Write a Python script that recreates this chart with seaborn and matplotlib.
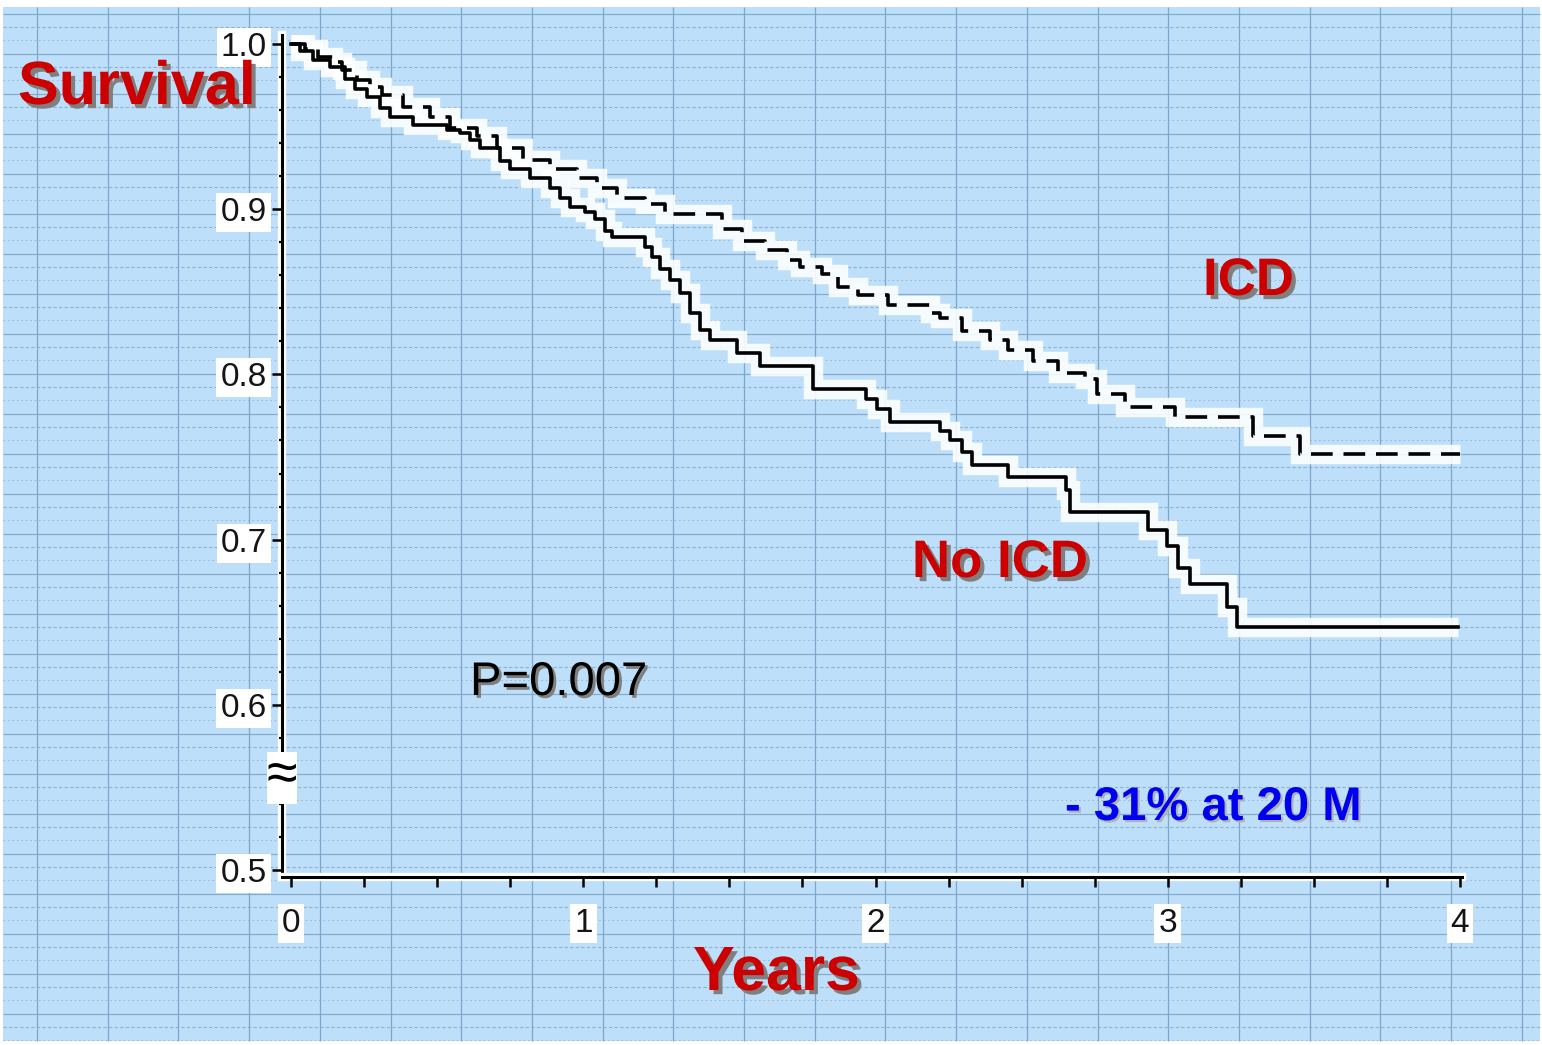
import numpy as np
import pandas as pd
import matplotlib
matplotlib.use("Agg")
import matplotlib.pyplot as plt
import matplotlib.patheffects as pe
from matplotlib.patches import Rectangle
from matplotlib.ticker import MultipleLocator, FixedLocator
import seaborn as sns

# Kaplan-Meier survival estimates (years of follow-up, survival after each step)
years_no_icd = [0.0, 0.031, 0.075, 0.133, 0.185, 0.219, 0.260, 0.305, 0.339, 0.417,
                0.534, 0.578, 0.612, 0.647, 0.715, 0.749, 0.818, 0.886, 0.920, 0.955,
                1.006, 1.040, 1.074, 1.098, 1.211, 1.235, 1.263, 1.297, 1.331, 1.365,
                1.399, 1.434, 1.526, 1.605, 1.786, 1.967, 2.005, 2.050, 2.221, 2.255,
                2.296, 2.330, 2.453, 2.652, 2.666, 2.932, 2.997, 3.035, 3.076, 3.203,
                3.237, 3.993]
surv_no_icd = [1.000, 0.996, 0.990, 0.986, 0.979, 0.973, 0.968, 0.961, 0.956, 0.951,
               0.948, 0.946, 0.942, 0.937, 0.929, 0.924, 0.919, 0.913, 0.907, 0.901,
               0.898, 0.894, 0.887, 0.883, 0.877, 0.871, 0.864, 0.857, 0.849, 0.837,
               0.827, 0.821, 0.813, 0.805, 0.791, 0.785, 0.779, 0.771, 0.766, 0.760,
               0.753, 0.745, 0.738, 0.730, 0.717, 0.706, 0.696, 0.683, 0.673, 0.659,
               0.647, 0.647]

years_icd = [0.0, 0.048, 0.092, 0.144, 0.175, 0.226, 0.270, 0.311, 0.383, 0.476,
             0.544, 0.636, 0.705, 0.794, 0.886, 0.979, 1.047, 1.115, 1.211, 1.280,
             1.475, 1.543, 1.622, 1.697, 1.742, 1.817, 1.872, 1.940, 2.043, 2.186,
             2.221, 2.296, 2.392, 2.453, 2.539, 2.624, 2.717, 2.758, 2.854, 3.025,
             3.292, 3.453, 4.000]
surv_icd = [1.000, 0.997, 0.992, 0.989, 0.984, 0.978, 0.974, 0.969, 0.962, 0.956,
            0.949, 0.944, 0.937, 0.930, 0.924, 0.919, 0.913, 0.907, 0.903, 0.897,
            0.888, 0.881, 0.875, 0.869, 0.865, 0.861, 0.853, 0.848, 0.842, 0.837,
            0.834, 0.826, 0.821, 0.815, 0.808, 0.801, 0.797, 0.788, 0.780, 0.774,
            0.763, 0.752, 0.752]

group_names = ["ICD", "No ICD"]
x_tick_labels = ["0", "1", "2", "3", "4"]
y_tick_labels = ["0.5", "0.6", "0.7", "0.8", "0.9", "1.0"]
y_ticks = [0.5, 0.6, 0.7, 0.8, 0.9, 1.0]

df = pd.concat([
    pd.DataFrame({"years": years_icd, "survival": surv_icd, "group": group_names[0]}),
    pd.DataFrame({"years": years_no_icd, "survival": surv_no_icd, "group": group_names[1]}),
], ignore_index=True)

plt.rcParams["font.family"] = ["Liberation Sans", "DejaVu Sans"]

W, H = 1542, 1045
fig = plt.figure(figsize=(W / 100, H / 100), dpi=100)

# ---- ruled light-blue backdrop (pixel coordinates) ----
bg = fig.add_axes([0, 0, 1, 1], zorder=0)
bg.set_xlim(0, W)
bg.set_ylim(H, 0)
bg.axis("off")
bg.add_patch(Rectangle((3, 7), W - 5, 1034, facecolor="#BEDFF9", edgecolor="none"))
for y0 in np.arange(14, 1041, 40):
    bg.hlines(y0, 3, W - 2, color="#86ABCC", lw=0.9)
    if y0 + 13 < 1041:
        bg.hlines(y0 + 13, 3, W - 2, color="#8DB1D1", lw=0.8, linestyles=(0, (3, 2)))
    if y0 + 26 < 1041:
        bg.hlines(y0 + 26, 3, W - 2, color="#9BBBD8", lw=0.8, linestyles=(0, (1.5, 2.5)))
for x0 in np.arange(37, W - 2, 70.7):
    bg.vlines(x0, 7, 1041, color="#7DA6CB", lw=0.9)

# ---- survival axes ----
ax = fig.add_axes([282 / W, 1 - 877 / H, (1462 - 282) / W, (877 - 35) / H], zorder=2)
ax.patch.set_alpha(0)

# white halo under both curves
sns.lineplot(data=df, x="years", y="survival", hue="group",
             palette={g: "white" for g in group_names},
             drawstyle="steps-post", estimator=None, legend=False,
             lw=14, alpha=0.88, solid_capstyle="butt", solid_joinstyle="miter",
             ax=ax, zorder=2)
# the curves themselves
sns.lineplot(data=df, x="years", y="survival", hue="group", style="group",
             palette={g: "black" for g in group_names},
             dashes={"ICD": (6, 3), "No ICD": ""},
             drawstyle="steps-post", estimator=None, legend=False,
             lw=2.6, ax=ax, zorder=3)

ax.set_xlim(-0.031, 4.007)
ax.set_ylim(0.4958, 1.0054)
ax.set_xlabel("")
ax.set_ylabel("")

for side in ("top", "right"):
    ax.spines[side].set_visible(False)
for side in ("left", "bottom"):
    ax.spines[side].set_color("black")
    ax.spines[side].set_linewidth(2.2)
    ax.spines[side].set_zorder(1)
    ax.spines[side].set_path_effects([pe.Stroke(linewidth=6, foreground="white"), pe.Normal()])

ax.xaxis.set_major_locator(FixedLocator(range(5)))
ax.xaxis.set_minor_locator(MultipleLocator(0.25))
ax.set_xticklabels(x_tick_labels)
ax.yaxis.set_major_locator(FixedLocator(y_ticks))
ax.yaxis.set_minor_locator(MultipleLocator(0.02))
ax.set_yticklabels(y_tick_labels)

ax.tick_params(axis="x", which="both", direction="out", length=7, width=1.8,
               color="black", labelsize=24, labelcolor="#151515", pad=15)
ax.tick_params(axis="y", which="major", direction="out", length=7, width=1.8,
               color="black", labelsize=24, labelcolor="#151515", pad=4)
ax.tick_params(axis="y", which="minor", direction="out", length=2.5, width=1.6,
               color="black")
for lbl in ax.get_xticklabels() + ax.get_yticklabels():
    lbl.set_bbox(dict(boxstyle="square,pad=0.12", facecolor="white", edgecolor="none"))

# axis break mark on the survival axis
ax.text(-0.031, 0.556, "≈", fontsize=40, ha="center", va="center",
        color="black", zorder=5,
        bbox=dict(boxstyle="square,pad=0.0", facecolor="white", edgecolor="none"))


def place(px, py, s, **kw):
    fig.text(px / W, 1 - py / H, s, ha="left", va="baseline", zorder=5, **kw)


red_shadow = [pe.withSimplePatchShadow(offset=(3, -3), shadow_rgbFace="#7f7f7f", alpha=1.0)]
place(18, 104, "Survival", fontsize=44, fontweight="bold", color="#CC0000", path_effects=red_shadow)
place(693, 990, "Years", fontsize=45, fontweight="bold", color="#CC0000", path_effects=red_shadow)
place(1203, 295, "ICD", fontsize=38, fontweight="bold", color="#CC0000", path_effects=red_shadow)
place(912, 577, "No ICD", fontsize=38, fontweight="bold", color="#CC0000", path_effects=red_shadow)
place(470, 695, "P=0.007", fontsize=34, color="black",
      path_effects=[pe.withSimplePatchShadow(offset=(2, -2), shadow_rgbFace="#7f7f7f", alpha=1.0)])
place(1065, 820, "- 31% at 20 M", fontsize=34, fontweight="bold", color="#0000F0",
      path_effects=[pe.withSimplePatchShadow(offset=(1.5, -1.5), shadow_rgbFace="#b0b0b0", alpha=1.0)])

fig.savefig("out.png", dpi=100, facecolor="white")
